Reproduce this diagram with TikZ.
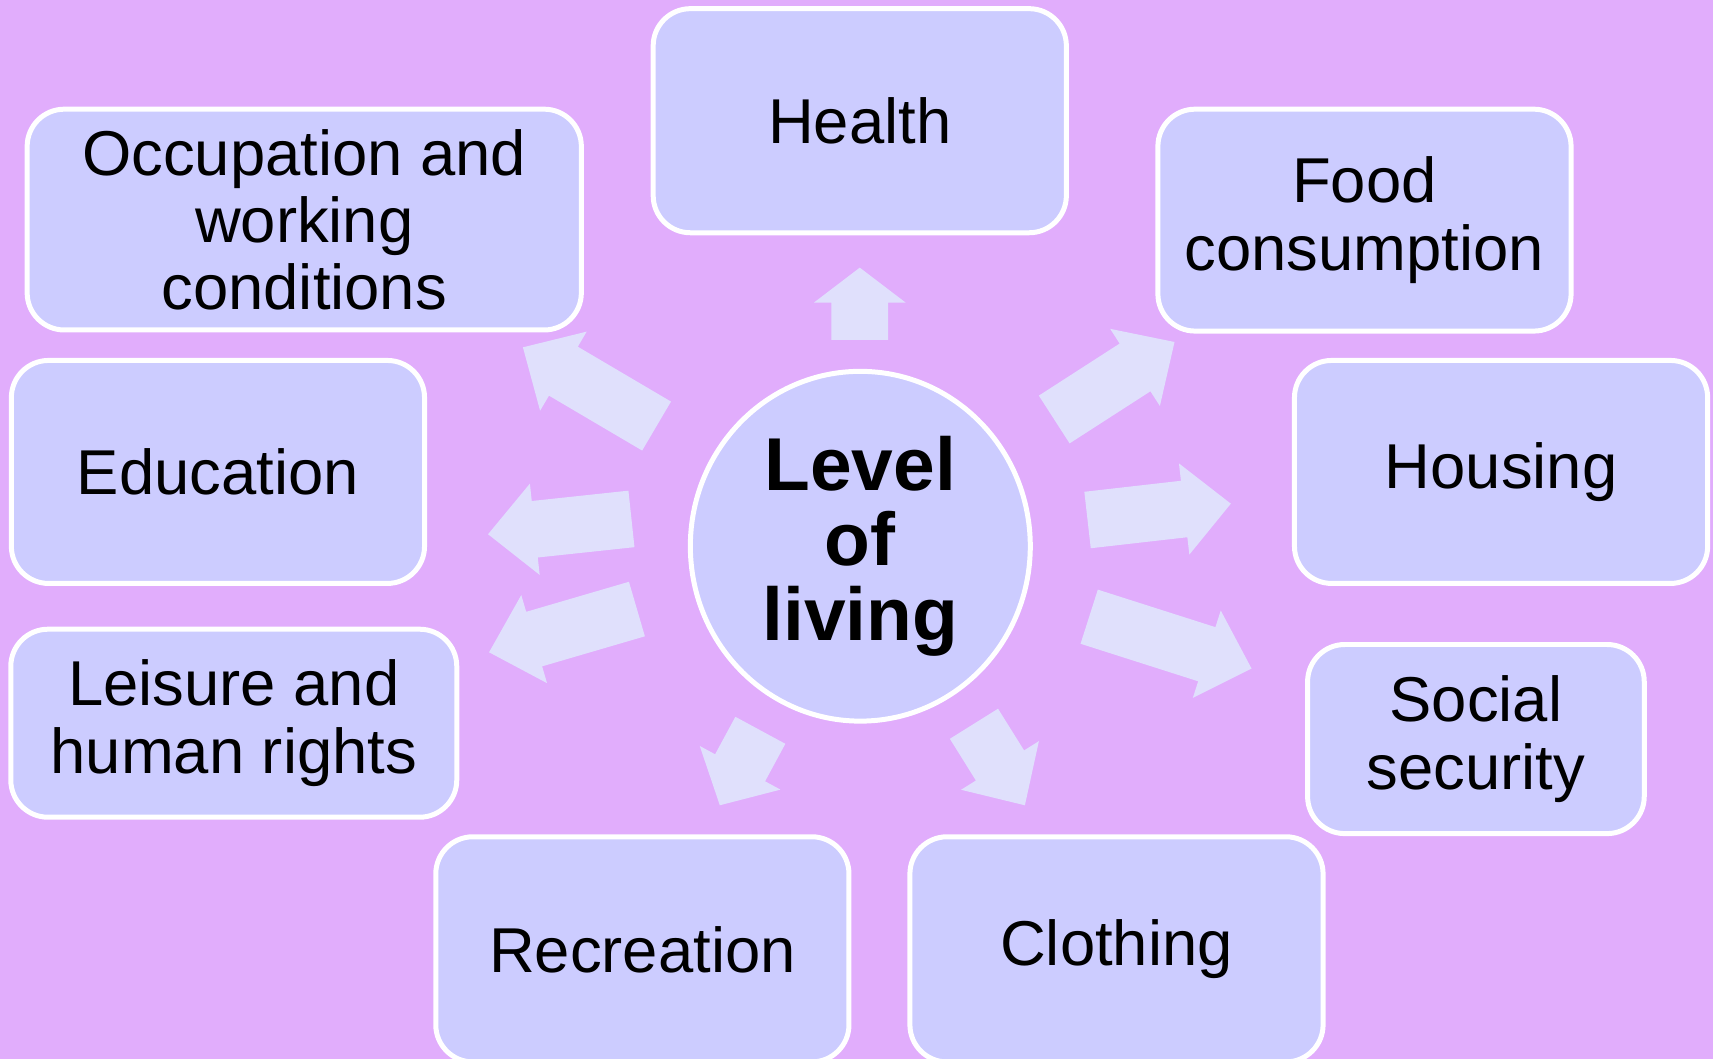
\documentclass[tikz,border=0pt]{standalone}
\usepackage{fontspec}
\setmainfont{Liberation Sans}
\usetikzlibrary{shapes.geometric}
\definecolor{bgviolet}{RGB}{225,173,252}
\definecolor{boxblue}{RGB}{204,204,255}
\definecolor{arrowblue}{RGB}{224,224,252}
% freccia piena: coda, angolo, lunghezza, lunghezza della punta
\newcommand{\levelarrow}[4]{%
  \fill[arrowblue, shift={(#1)}, rotate=#2]
    (0,-26) -- ({#3-#4},-26) -- ({#3-#4},-42) -- (#3,0)
    -- ({#3-#4},42) -- ({#3-#4},26) -- (0,26) -- cycle;}

\begin{document}
\begin{tikzpicture}[
    x=0.01cm, y=0.01cm,
    box/.style={rectangle, rounded corners=0.34cm, draw=white, line width=1.3pt,
        fill=boxblue, minimum width=3.78cm, minimum height=2.05cm, inner sep=0pt,
        align=center, font=\fontsize{16.5}{17.5}\selectfont},
    centre/.style={ellipse, draw=white, line width=1.3pt, fill=boxblue,
        minimum width=3.11cm, minimum height=3.2cm, inner sep=0pt,
        align=center, font=\fontsize{19.5}{19.5}\selectfont\bfseries}
]
    \fill[bgviolet] (0,0) rectangle (1568,969);
    \useasboundingbox (0,0) rectangle (1568,969);

    % Frecce intorno al cerchio
    \levelarrow{787,658}{90}{66}{32}
    \levelarrow{965,585}{32.8}{131}{43}
    \levelarrow{995.5,493}{6.5}{132}{43}
    \levelarrow{997,404.5}{-17.7}{156}{43}
    \levelarrow{891.5,306.5}{-58}{88}{43}
    \levelarrow{696,300.5}{241.6}{78}{39}
    \levelarrow{583,411.5}{196.3}{141}{43}
    \levelarrow{578,494}{186.1}{132}{43}
    \levelarrow{601,579}{149.5}{142}{43}

    \node[box] (health) at (787,858.5) {Health};
    \node[box, minimum width=5.07cm, minimum height=2.02cm] (occupation) at (278.5,768) {Occupation and\\working\\conditions};
    \node[box, minimum height=2.03cm] (food) at (1249,767.5) {Food\\consumption};
    \node[box, minimum height=2.04cm] (education) at (199.5,537) {Education};
    \node[box, minimum height=2.04cm] (housing) at (1374,537) {Housing};
    \node[box, minimum width=4.08cm, minimum height=1.72cm] (leisure) at (214,307) {Leisure and\\human rights};
    \node[box, minimum width=3.08cm, minimum height=1.73cm] (social) at (1351,292.5) {Social\\security};
    \node[box, minimum height=2.06cm] (recreation) at (588,100) {Recreation};
    \node[box, minimum height=2.06cm] (clothing) at (1022,100) {Clothing};

    \node[centre] (level) at (787.5,469) {Level\\of\\living};
\end{tikzpicture}
\end{document}
